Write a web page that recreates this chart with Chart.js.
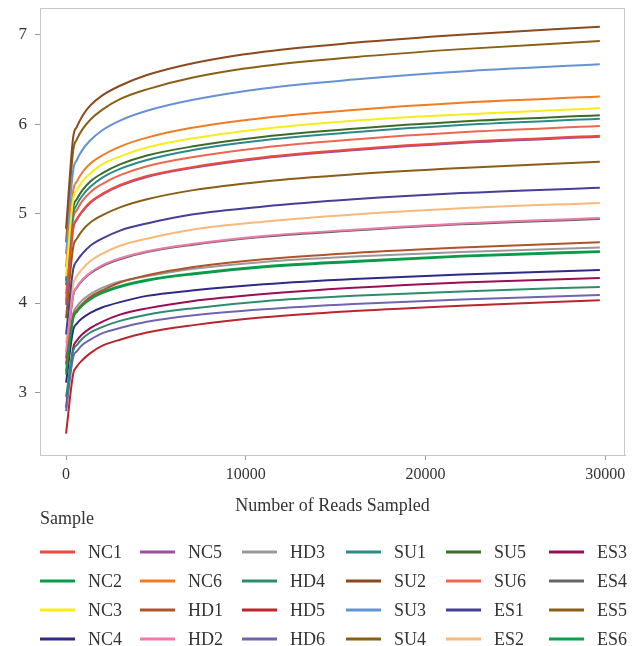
<!DOCTYPE html>
<html>
<head>
<meta charset="utf-8">
<script src="https://cdn.jsdelivr.net/npm/chart.js@4"></script>
<style>
    body { margin: 0; background: #fff; }
</style>
</head>
<body>
<canvas id="rarefaction" width="639" height="646"></canvas>
<script>
// sampling depths (reads) shared by every curve
const readsSampled = [0, 400, 600, 900, 1350, 2000, 3000, 4500, 7000, 11000, 16000, 22000, 29700];

const NC1 = [4.02, 4.84, 4.94, 5.03, 5.13, 5.22, 5.32, 5.42, 5.52, 5.63, 5.72, 5.80, 5.87];
const NC2 = [3.20, 3.83, 3.90, 3.97, 4.04, 4.11, 4.18, 4.25, 4.32, 4.40, 4.46, 4.52, 4.57];
const NC3 = [4.30, 5.17, 5.26, 5.36, 5.45, 5.55, 5.64, 5.74, 5.84, 5.95, 6.04, 6.11, 6.18];
const NC4 = [3.11, 3.70, 3.77, 3.83, 3.89, 3.95, 4.01, 4.08, 4.14, 4.21, 4.27, 4.32, 4.37];
const NC5 = [3.98, 4.83, 4.93, 5.02, 5.12, 5.21, 5.31, 5.41, 5.51, 5.62, 5.71, 5.79, 5.86];
const NC6 = [4.40, 5.26, 5.36, 5.46, 5.56, 5.65, 5.75, 5.85, 5.96, 6.07, 6.16, 6.24, 6.31];
const HD1 = [3.32, 3.86, 3.92, 3.99, 4.07, 4.14, 4.23, 4.31, 4.40, 4.49, 4.56, 4.62, 4.68];
const HD2 = [3.45, 4.10, 4.18, 4.26, 4.34, 4.42, 4.50, 4.58, 4.66, 4.75, 4.82, 4.89, 4.95];
const HD3 = [3.30, 3.89, 3.96, 4.03, 4.10, 4.17, 4.24, 4.30, 4.38, 4.46, 4.52, 4.57, 4.62];
const HD4 = [2.95, 3.47, 3.53, 3.60, 3.67, 3.73, 3.80, 3.87, 3.94, 4.02, 4.08, 4.13, 4.18];
const HD5 = [2.54, 3.21, 3.29, 3.36, 3.44, 3.52, 3.59, 3.67, 3.75, 3.84, 3.91, 3.97, 4.03];
const HD6 = [2.79, 3.40, 3.46, 3.53, 3.59, 3.66, 3.72, 3.79, 3.86, 3.93, 3.99, 4.04, 4.09];
const SU1 = [4.20, 5.00, 5.10, 5.20, 5.30, 5.40, 5.50, 5.60, 5.71, 5.82, 5.91, 5.99, 6.06];
const SU2 = [4.83, 5.86, 5.97, 6.09, 6.21, 6.32, 6.43, 6.55, 6.68, 6.81, 6.91, 7.00, 7.09];
const SU3 = [4.55, 5.49, 5.60, 5.71, 5.82, 5.93, 6.04, 6.15, 6.27, 6.40, 6.50, 6.59, 6.67];
const SU4 = [3.83, 4.63, 4.72, 4.81, 4.90, 4.98, 5.07, 5.16, 5.26, 5.36, 5.44, 5.51, 5.58];
const SU5 = [4.25, 5.07, 5.16, 5.26, 5.36, 5.45, 5.55, 5.65, 5.75, 5.86, 5.95, 6.03, 6.10];
const SU6 = [4.10, 4.95, 5.04, 5.14, 5.24, 5.33, 5.43, 5.53, 5.63, 5.74, 5.83, 5.91, 5.98];
const ES1 = [3.65, 4.38, 4.47, 4.55, 4.64, 4.72, 4.81, 4.89, 4.99, 5.08, 5.16, 5.23, 5.29];
const ES2 = [3.55, 4.21, 4.30, 4.38, 4.47, 4.55, 4.64, 4.72, 4.82, 4.91, 4.99, 5.06, 5.12];
const ES3 = [2.83, 3.50, 3.58, 3.65, 3.72, 3.79, 3.87, 3.94, 4.02, 4.10, 4.17, 4.23, 4.28];
const ES4 = [3.38, 4.09, 4.17, 4.25, 4.33, 4.41, 4.49, 4.57, 4.65, 4.74, 4.81, 4.88, 4.94];
const ES5 = [4.68, 5.71, 5.83, 5.94, 6.05, 6.16, 6.28, 6.39, 6.52, 6.65, 6.75, 6.84, 6.93];
const ES6 = [3.23, 3.84, 3.91, 3.98, 4.05, 4.12, 4.19, 4.26, 4.33, 4.41, 4.47, 4.53, 4.58];

const sampleNames = ['NC1', 'NC2', 'NC3', 'NC4', 'NC5', 'NC6',
                     'HD1', 'HD2', 'HD3', 'HD4', 'HD5', 'HD6',
                     'SU1', 'SU2', 'SU3', 'SU4', 'SU5', 'SU6',
                     'ES1', 'ES2', 'ES3', 'ES4', 'ES5', 'ES6'];
const sampleValues = [NC1, NC2, NC3, NC4, NC5, NC6, HD1, HD2, HD3, HD4, HD5, HD6,
                      SU1, SU2, SU3, SU4, SU5, SU6, ES1, ES2, ES3, ES4, ES5, ES6];
const sampleColors = ['#ec4a3c', '#0a9a48', '#f7ec1c', '#2e2a86', '#9a4fa0', '#f07c24',
                      '#b0522a', '#ec7aaa', '#999999', '#2e8b6e', '#b8262e', '#7064ae',
                      '#2a8a8a', '#8a4a1e', '#6592d2', '#8a5e16', '#3e6a2a', '#ec6650',
                      '#453f96', '#f7b97c', '#9a0e56', '#666666', '#8a6016', '#0aa050'];

const xTickValues = [0, 10000, 20000, 30000];
const yTickValues = [3, 4, 5, 6, 7];

const FONT = "'Liberation Serif', 'DejaVu Serif', serif";
Chart.defaults.font.family = FONT;
Chart.defaults.color = '#333';

// grey frame round the plot area
const plotBox = {
    id: 'plotBox',
    afterDraw(chart) {
        const a = chart.chartArea;
        const ctx = chart.ctx;
        ctx.save();
        ctx.strokeStyle = '#c8c8c8';
        ctx.lineWidth = 1;
        ctx.strokeRect(a.left + 0.5, a.top + 0.5, a.right - a.left - 1, a.bottom - a.top);
        ctx.restore();
    }
};

// legend: title, then 4 rows x 6 columns filled column by column
const colLeft = [40, 140, 242, 346, 446, 549];
const rowMid = [552, 581, 610, 639];
const sampleLegend = {
    id: 'sampleLegend',
    afterDraw(chart) {
        const ctx = chart.ctx;
        ctx.save();
        ctx.font = '18px ' + FONT;
        ctx.fillStyle = '#333';
        ctx.textBaseline = 'middle';
        ctx.textAlign = 'left';
        ctx.fillText('Sample', 40, 519);
        chart.data.datasets.forEach((ds, i) => {
            const x = colLeft[Math.floor(i / 4)];
            const y = rowMid[i % 4];
            ctx.fillStyle = ds.borderColor;
            ctx.fillRect(x, y - 1.5, 35, 3);
            ctx.fillStyle = '#333';
            ctx.fillText(ds.label, x + 48, y + 1);
        });
        ctx.restore();
    }
};

const datasets = sampleNames.map((name, i) => ({
    label: name,
    data: readsSampled.map((r, j) => ({ x: r, y: sampleValues[i][j] })),
    borderColor: sampleColors[i],
    backgroundColor: sampleColors[i],
    borderWidth: 2,
    pointRadius: 0,
    fill: false,
    cubicInterpolationMode: 'monotone'
}));

const ctx = document.getElementById('rarefaction').getContext('2d');
new Chart(ctx, {
    type: 'line',
    data: { datasets: datasets },
    options: {
        responsive: false,
        animation: false,
        layout: { padding: { top: 8, right: 14, left: 0, bottom: 126 } },
        plugins: { legend: { display: false }, tooltip: { enabled: false } },
        scales: {
            x: {
                type: 'linear',
                min: -1450,
                max: 31100,
                afterFit: s => { s.height = 65; s.paddingLeft = 0; s.paddingRight = 0; },
                afterBuildTicks: s => { s.ticks = xTickValues.map(v => ({ value: v })); },
                ticks: { font: { size: 16 }, padding: 5, maxRotation: 0, callback: v => String(v) },
                grid: { drawOnChartArea: false, tickLength: 5, color: '#999' },
                border: { color: '#c8c8c8' },
                title: {
                    display: true,
                    text: 'Number of Reads Sampled',
                    font: { size: 18 },
                    padding: { top: 0, bottom: 3 }
                }
            },
            y: {
                min: 2.3,
                max: 7.3,
                afterFit: s => { s.width = 40; s.paddingTop = 0; s.paddingBottom = 0; },
                afterBuildTicks: s => { s.ticks = yTickValues.map(v => ({ value: v })); },
                ticks: { font: { size: 17 }, padding: 8, callback: v => String(v) },
                grid: { drawOnChartArea: false, tickLength: 5, color: '#999' },
                border: { color: '#c8c8c8' }
            }
        }
    },
    plugins: [plotBox, sampleLegend]
});
</script>
</body>
</html>
